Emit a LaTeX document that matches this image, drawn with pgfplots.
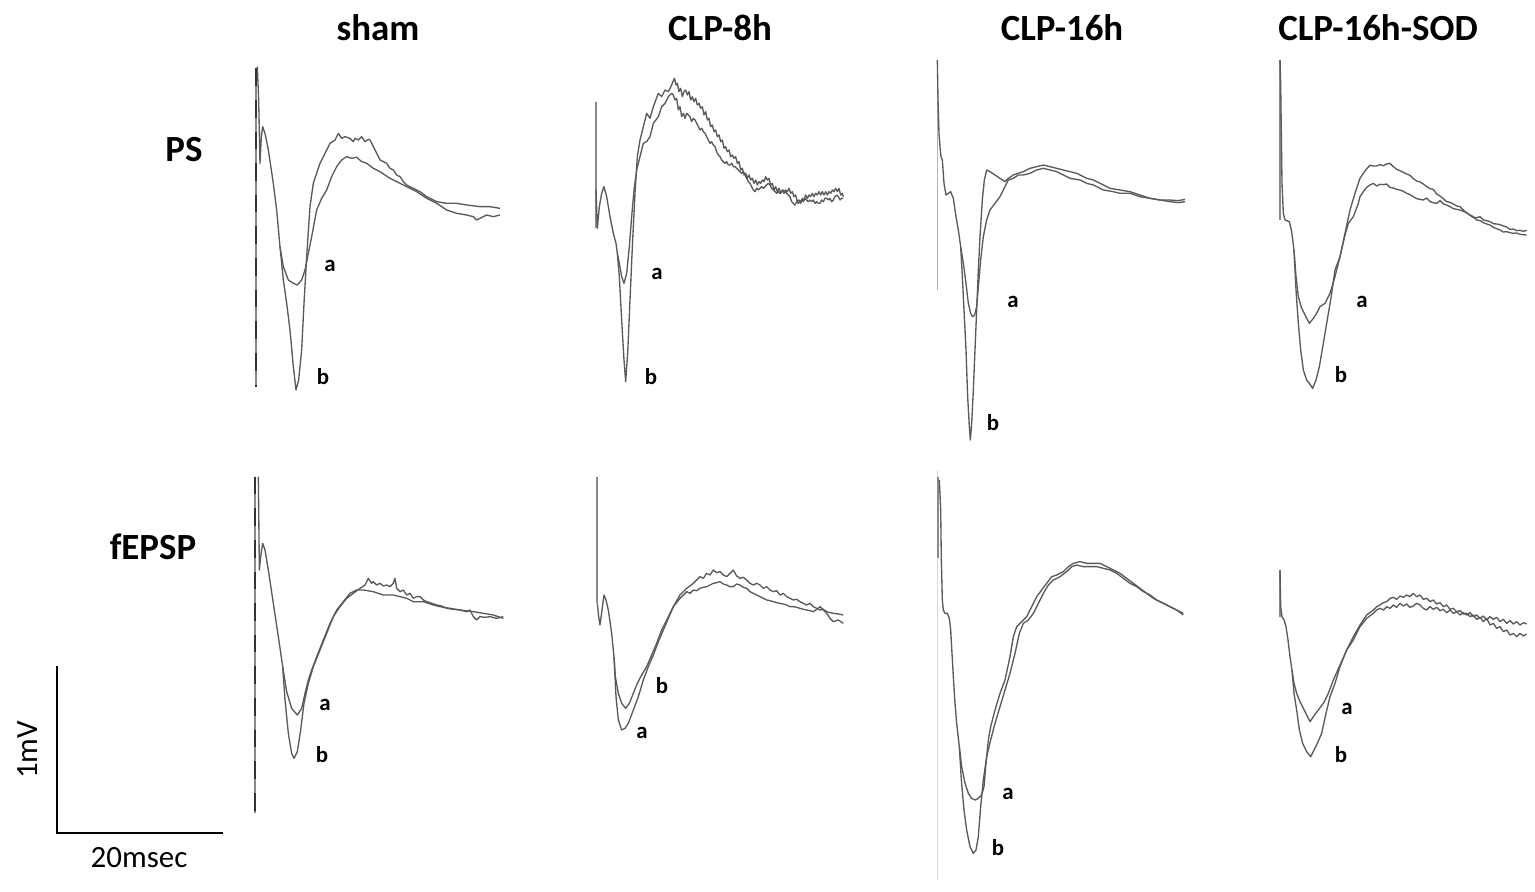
\documentclass[border=0pt]{standalone}
\usepackage{fontspec}
\setmainfont{Carlito}
\usepackage{pgfplots}
\pgfplotsset{compat=1.18}
\definecolor{trcgray}{HTML}{5A5A5A}
\definecolor{artgray}{HTML}{8A8A8A}
\pgfplotsset{
  trc/.style 2 args={draw=trcgray, line width=0.38pt, no markers, line join=round,
    x filter/.expression={#1+x/3}, y filter/.expression={#2+y/3}},
  art/.style 2 args={draw=artgray, line width=0.5pt, no markers,
    x filter/.expression={#1+x/3}, y filter/.expression={#2+y/3}},
  artd/.style 2 args={draw=black!80, line width=0.5pt, no markers, dash pattern=on 5pt off 4pt,
    x filter/.expression={#1+x/3}, y filter/.expression={#2+y/3}},
}
\begin{document}
\begin{tikzpicture}
\begin{axis}[width=15.35cm,height=8.92cm,scale only axis,xmin=0,xmax=1535,ymin=0,ymax=892,
  y dir=reverse,hide axis,clip=false]
\path (axis cs:0,0) rectangle (axis cs:1535,892);
% ---------- Panel 1: sham PS ----------
\addplot[art={240}{50}] coordinates {(47,55) (47,1010)};
\addplot[artd={240}{50}] coordinates {(47,55) (47,1010)};
\addplot[trc={240}{50}] coordinates {(52,50) (56,150) (60,340) (64,260) (68,230) (75,250) (85,300) (100,400) (110,480) (120,590)
 (130,650) (145,690) (160,700) (172,705) (185,690) (195,660) (205,610) (215,560) (230,480) (245,445) (260,420) (275,380) (290,350) (305,330) (320,320) (335,325) (350,322) (365,335) (380,340) (400,355) (420,365) (450,385) (480,400) (500,410) (530,425) (560,445) (590,460) (620,480) (650,490) (680,495) (700,500) (710,510) (720,505) (740,495) (760,500) (780,495)};
\addplot[trc={240}{50}] coordinates {(120,590) (130,690) (140,760) (150,840) (160,950) (168,1020) (176,990) (185,900) (192,760) (200,620) (210,470) (220,400) (240,340) (255,310) (270,280) (285,270) (295,250) (305,265) (315,260) (330,265) (340,275) (345,265) (355,270) (365,260) (375,275) (385,268) (390,270) (400,290) (410,310) (420,330) (430,335) (440,340) (450,355) (460,360) (470,375) (480,380) (490,395) (500,405) (520,415) (540,425) (560,440) (590,455) (620,460) (650,460) (680,465) (720,470) (750,470) (780,475)};
% ---------- Panel 2: CLP-8h PS ----------
\addplot[art={580}{60}] coordinates {(48,125) (48,505)};
\addplot[trc={580}{60}] coordinates {(48,390) (52,505) (58,440) (65,400) (72,380) (80,410) (90,470) (100,520) (108,550) (112,580)
 (118,610) (125,650) (132,670) (140,640) (148,560) (155,470) (162,390) (170,330) (180,290) (190,250) (200,245) (210,230) (220,190) (235,170) (245,140) (255,130) (265,110)
 (275,100)(280,105)(285,120)(290,115)(295,150)(300,140)(305,170)(310,160)(315,175)(320,160)(325,165)(330,170)(335,185)(340,175)(345,180)(350,190)(355,200)(360,210)(365,205)(370,215)(375,220)(380,230)(385,240)(390,250)(395,245)(400,255)(405,260)(410,275)(415,285)(420,290)(425,300)(430,305)(435,310)(440,305)(445,315)(450,315)(455,310)(460,320)(465,320)(470,325)(475,330)(480,335)(485,340)(490,335)(495,345)(500,355)(505,365)(510,370)(515,380)(520,390)(525,395)(530,385)(535,390)(540,385)(545,380)(550,385)(555,380)(560,375)(565,370)(570,375)(575,385)(580,390)(585,395)(590,400)(595,395)(600,400)(605,395)(610,390)(615,395)(620,400)(625,405)(630,410)(635,425)(640,430)(645,435)(650,425)(655,430)(660,425)(665,420)(670,425)(675,415)(680,420)(685,425)(690,420)(695,425)(700,420)(705,430)(710,425)(715,430)(720,430)(725,420)(730,425)(735,415)(740,415)(745,420)(750,415)(755,425)(760,420)(765,410)(770,405)(775,410)(780,420)(785,415)(790,415)};
\addplot[trc={580}{60}] coordinates {(112,580) (118,650) (125,780) (132,900) (137,965) (143,880) (150,720) (157,560) (165,400) (172,290) (180,240) (190,200) (200,160) (210,175) (220,140) (235,100) (245,110) (255,90) (265,95) (275,75)
 (283,55)(288,75)(292,70)(297,95)(302,85)(307,110)(312,95)(317,90)(322,105)(327,95)(332,120)(337,110)(342,125)(347,115)(352,135)(357,130)(362,145)(367,140)(372,165)(377,155)(382,180)(387,175)(392,200)(397,195)(402,215)(407,210)(412,230)(417,225)(422,245)(427,240)(432,265)(437,260)(442,275)(447,270)(452,290)(457,285)(462,295)(467,290)(472,310)(477,305)(482,330)(487,325)(492,345)(497,340)(502,355)(507,345)(512,360)(517,355)(522,370)(527,360)(532,375)(537,365)(542,370)(547,360)(552,365)(557,350)(562,360)(567,355)(572,375)(577,370)(582,390)(587,380)(592,395)(597,385)(602,400)(607,390)(612,400)(617,390)(622,395)(627,385)(632,400)(637,395)(642,410)(647,405)(652,425)(657,420)(662,430)(667,415)(672,420)(677,405)(682,415)(687,405)(692,410)(697,400)(702,410)(707,400)(712,405)(717,395)(722,405)(727,395)(732,405)(737,395)(742,405)(747,395)(752,400)(757,390)(762,395)(767,385)(772,395)(777,385)(782,405)(787,400)(790,410)};
% ---------- Panel 3: CLP-16h PS ----------
\addplot[draw=black!30, line width=0.45pt, x filter/.expression={920+x/3}, y filter/.expression={50+y/3}] coordinates {(52,30) (52,720)};
\addplot[trc={920}{50}] coordinates {(52,30) (54,150) (57,250) (60,290) (63,320) (67,330) (72,400) (78,435) (85,430) (92,425) (100,445) (108,500) (115,540) (122,590)
 (130,640) (138,700) (145,760) (152,790) (157,800) (164,795) (170,770) (176,700) (182,630) (190,560) (200,510) (210,480) (225,460) (240,440) (255,410) (265,390) (280,385) (295,375) (310,375) (330,370) (350,360) (370,355) (390,360) (410,365) (430,375) (450,385) (480,390) (500,400) (520,405) (550,420) (580,425) (600,430) (630,430) (660,440) (690,445) (720,450) (750,455) (775,458) (795,455)};
\addplot[trc={920}{50}] coordinates {(122,590) (126,660) (132,780) (138,900) (143,1040) (148,1130) (151,1170) (155,1120) (160,1020) (165,900) (170,780) (175,660) (180,560) (187,450) (193,390) (200,360) (210,365) (225,375) (240,385) (255,395) (265,385) (280,375) (295,370) (310,365) (330,355) (350,350) (370,345) (390,350) (410,355) (430,360) (450,365) (470,370) (500,385) (520,390) (550,405) (570,415) (600,420) (630,425) (660,435) (690,445) (720,450) (750,450) (775,452) (795,448)};
% ---------- Panel 4: CLP-16h-SOD PS ----------
\addplot[art={1260}{50}] coordinates {(60,30) (60,510)};
\addplot[trc={1260}{50}] coordinates {(60,30) (62,100) (64,250) (66,400) (70,490) (75,510) (88,515) (95,545) (102,600)
 (108,680) (115,740) (125,775) (135,795) (148,820) (160,805) (170,790) (180,770) (195,760) (210,730) (225,680) (240,620) (255,555) (265,520) (280,500) (295,460)
 (300,440)(310,425)(320,412)(330,405)(340,400)(350,408)(360,403)(370,404)(380,402)(390,412)(400,414)(410,418)(420,420)(430,424)(440,430)(450,434)(460,440)(470,446)(480,448)(490,450)(500,444)(510,455)(520,458)(530,460)(540,452)(550,462)(560,465)(570,470)(580,476)(590,478)(600,480)(610,484)(620,488)(630,496)(640,503)(650,503)(660,500)(670,510)(680,512)(690,515)(700,521)(710,522)(720,524)(730,528)(740,531)(750,538)(760,537)(770,542)(780,541)(790,544)(800,541)};
\addplot[trc={1260}{50}] coordinates {(102,600) (108,720) (115,820) (122,900) (130,960) (140,990) (148,1000) (158,1015) (168,990) (178,950) (190,880) (200,820) (212,750) (225,660) (240,620) (255,550) (270,480) (285,430)
 (300,385)(310,370)(320,356)(330,346)(340,348)(350,348)(360,344)(370,347)(380,342)(390,340)(400,350)(410,358)(420,362)(430,367)(440,372)(450,376)(460,386)(470,393)(480,396)(490,402)(500,410)(510,416)(520,418)(530,432)(540,438)(550,446)(560,455)(570,457)(580,462)(590,468)(600,470)(610,480)(620,489)(630,495)(640,500)(650,510)(660,512)(670,518)(680,522)(690,525)(700,532)(710,536)(720,540)(730,546)(740,545)(750,548)(760,550)(770,549)(780,553)(790,554)(800,555)};
% ---------- Panel 5: sham fEPSP ----------
\addplot[art={240}{470}] coordinates {(45,20) (45,1030)};
\addplot[artd={240}{470}] coordinates {(45,20) (45,1030)};
\addplot[trc={240}{470}] coordinates {(55,20) (57,200) (58,300) (62,260) (68,220) (75,240) (85,300) (100,400) (115,500) (128,590)
 (140,665) (155,715) (172,735) (185,715) (195,670) (205,630) (215,600) (230,560) (250,510) (270,460) (290,420) (310,395) (330,370) (350,360) (370,360) (400,365) (430,375) (460,375) (500,385) (520,395) (550,395) (580,405) (600,410) (630,415) (660,420) (700,425) (730,430) (760,435) (790,445)};
\addplot[trc={240}{470}] coordinates {(128,590) (135,690) (145,790) (155,850) (162,865) (172,845) (182,780) (192,700) (205,640) (220,590) (240,540) (260,490) (280,440) (300,410) (320,385) (340,370) (360,355) (375,345) (385,325) (395,340) (400,335) (410,345) (420,340) (430,348) (440,345) (450,350) (460,340) (465,325) (470,355) (480,365) (490,360) (500,375) (510,370) (520,385) (530,380) (540,380) (550,390) (560,395) (575,400) (590,405) (605,408) (620,415) (640,418) (660,420) (680,425) (690,420) (700,440) (710,450) (720,440) (735,442) (750,440) (770,445) (790,440)};
% ---------- Panel 6: CLP-8h fEPSP ----------
\addplot[art={580}{470}] coordinates {(52,20) (52,400)};
\addplot[trc={580}{470}] coordinates {(52,400) (56,440) (60,465) (66,420) (72,375) (78,390) (85,420) (95,490) (102,560)
 (108,680) (115,750) (125,780) (135,775) (145,760) (160,720) (175,680) (190,630) (205,590) (220,555) (235,515) (250,480) (265,445) (280,410) (300,375) (320,355) (340,340) (360,320) (370,325) (380,310) (390,315) (400,300) (410,308) (420,305) (430,315) (440,320) (450,310) (460,300) (470,318) (480,325) (490,322) (500,330) (510,340) (520,345) (530,340) (540,345) (550,355) (560,350) (570,360) (580,365) (590,362) (600,375) (610,370) (620,380) (630,385) (640,390) (650,388) (660,395) (670,400) (680,405) (690,400) (700,410) (710,415) (720,420) (730,418) (740,425) (750,428) (760,430) (775,432) (790,435)};
\addplot[trc={580}{470}] coordinates {(102,560) (106,620) (115,670) (125,700) (137,715) (148,700) (160,670) (172,640) (185,615) (200,590) (215,555) (230,520) (245,480) (260,450) (280,410) (300,385) (320,365) (330,370) (340,360) (350,362) (360,355) (370,352) (380,350) (390,345) (400,340) (410,338) (420,335) (430,342) (440,345) (450,350) (460,350) (470,342) (480,345) (490,352) (500,355) (510,365) (520,370) (530,375) (540,380) (550,385) (560,390) (570,392) (580,395) (590,398) (600,400) (610,402) (620,405) (630,410) (640,410) (650,412) (660,415) (670,418) (680,420) (690,422) (700,425) (710,418) (720,410) (730,420) (740,430) (750,445) (760,455) (775,450) (790,460)};
% ---------- Panel 7: CLP-16h fEPSP ----------
\addplot[draw=black!15, line width=0.4pt, x filter/.expression={920+x/3}, y filter/.expression={470+y/3}] coordinates {(52,0) (52,1230)};
\addplot[art={920}{470}] coordinates {(55,20) (55,265)};
\addplot[trc={920}{470}] coordinates {(58,30) (62,120) (64,270) (67,390) (70,420) (75,430) (82,430) (88,445) (92,480) (96,550) (100,620) (105,700) (110,760) (118,830)
 (125,890) (135,940) (145,970) (155,985) (165,990) (175,985) (185,975) (192,950) (198,880) (205,810) (212,770) (225,720) (240,670) (255,630) (270,560) (280,500) (290,470) (305,455) (320,440) (335,410) (350,380) (365,360) (380,340) (395,320) (410,315) (430,305) (445,290) (460,280) (480,275) (500,280) (520,280) (540,280) (560,290) (580,300) (600,310) (620,325) (640,340) (660,355) (680,370) (700,385) (720,395) (740,405) (760,415) (790,430)};
\addplot[trc={920}{470}] coordinates {(118,830) (124,930) (132,1020) (140,1080) (150,1130) (160,1150) (168,1140) (175,1100) (182,1010) (190,930) (200,860) (212,810) (225,760) (240,710) (255,660) (270,610) (285,550) (298,490) (310,460) (325,450) (340,430) (355,400) (370,370) (385,345) (400,330) (420,320) (440,305) (455,290) (470,285) (490,290) (510,290) (530,290) (550,295) (570,300) (590,310) (610,325) (630,340) (650,350) (670,365) (690,375) (710,390) (730,400) (750,410) (770,420) (790,435)};
% ---------- Panel 8: CLP-16h-SOD fEPSP ----------
\addplot[art={1260}{560}] coordinates {(60,30) (60,170)};
\addplot[trc={1260}{560}] coordinates {(60,30) (62,140) (66,170) (72,180) (78,200) (84,240) (90,290) (96,330)
 (102,370) (110,400) (120,425) (135,455) (150,485) (160,470) (175,450) (190,430) (205,400) (220,360) (240,315) (260,270) (280,240) (300,200) (320,175)
 (340,160)(350,150)(360,145)(370,150)(380,140)(390,145)(400,135)(410,142)(420,130)(430,138)(440,132)(450,142)(460,138)(470,130)(480,135)(490,145)(500,150)(510,140)(520,148)(530,142)(540,152)(550,148)(560,158)(570,150)(580,160)(590,155)(600,165)(610,158)(620,165)(630,158)(640,170)(650,165)(660,175)(670,168)(680,180)(690,170)(700,178)(710,172)(720,185)(730,178)(740,190)(750,182)(760,192)(770,185)(780,195)(790,188)(800,192)};
\addplot[trc={1260}{560}] coordinates {(96,330) (102,400) (110,450) (118,510) (128,550) (140,575) (152,590) (162,570) (172,550) (185,520) (198,460) (210,410) (225,370) (240,320) (260,270) (280,230) (300,195) (320,165)
 (340,150)(350,140)(360,135)(370,128)(380,125)(390,115)(400,112)(410,118)(420,108)(430,112)(440,105)(450,110)(460,100)(470,110)(480,105)(490,118)(500,115)(510,125)(520,120)(530,132)(540,128)(550,140)(560,135)(570,148)(580,145)(590,155)(600,152)(610,162)(620,160)(630,170)(640,165)(650,178)(660,172)(670,185)(680,175)(690,195)(700,190)(710,205)(720,200)(730,215)(740,210)(750,225)(760,220)(770,230)(780,220)(790,228)(800,222)};
% ---------- scale bar ----------
\addplot[draw=black, line width=0.85pt, line cap=rect, no markers] coordinates {(57,667) (57,833) (222,833)};
% ---------- text ----------
\begin{scope}[every node/.style={font=\fontsize{10.5}{12}\selectfont\bfseries, inner sep=0pt}]
\node at (axis cs:378,28) {sham};
\node at (axis cs:720,28) {CLP-8h};
\node at (axis cs:1062,28) {CLP-16h};
\node at (axis cs:1378,28) {CLP-16h-SOD};
\node at (axis cs:184,150) {PS};
\node at (axis cs:153,547) {fEPSP};
\end{scope}
\begin{scope}[every node/.style={font=\fontsize{6.5}{7}\selectfont\bfseries, inner sep=0pt}]
\node at (axis cs:330,266) {a}; \node at (axis cs:323,377) {b};
\node at (axis cs:657,274) {a}; \node at (axis cs:651,377) {b};
\node at (axis cs:1013,302) {a}; \node at (axis cs:993,423) {b};
\node at (axis cs:1362,302) {a}; \node at (axis cs:1341,375) {b};
\node at (axis cs:325,705) {a}; \node at (axis cs:322,755) {b};
\node at (axis cs:662,686) {b}; \node at (axis cs:642,733) {a};
\node at (axis cs:1008,794) {a}; \node at (axis cs:998,848) {b};
\node at (axis cs:1347,709) {a}; \node at (axis cs:1341,755) {b};
\end{scope}
\node[font=\fontsize{8.8}{10}\selectfont, inner sep=0pt] at (axis cs:139,858) {20msec};
\node[font=\fontsize{8.8}{10}\selectfont, inner sep=0pt, rotate=90] at (axis cs:28,750) {1mV};
\end{axis}
\end{tikzpicture}
\end{document}
